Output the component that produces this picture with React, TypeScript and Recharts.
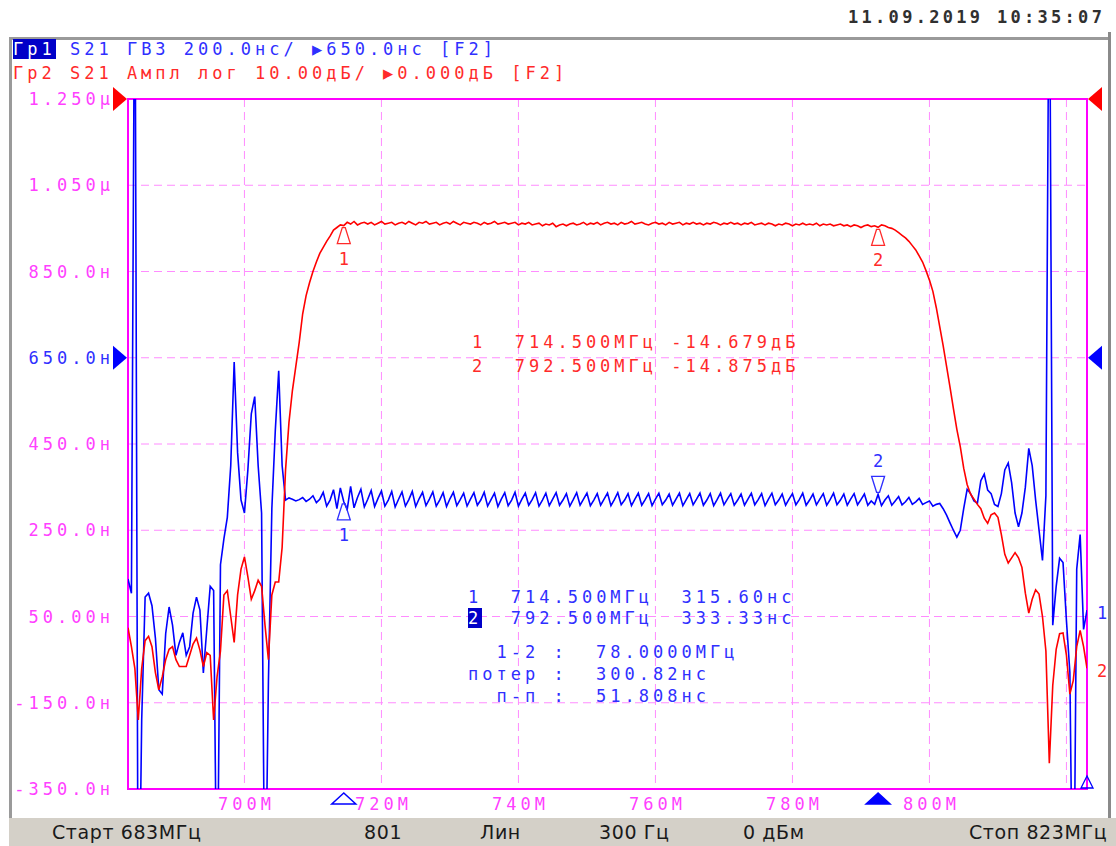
import { LineChart, Line, XAxis, YAxis, CartesianGrid, ReferenceArea, ReferenceDot } from 'recharts';

const START_MHZ = 683;
const STOP_MHZ = 823;
const STEP_MHZ = 0.5;
const freqMHz = Array.from({ length: (STOP_MHZ - START_MHZ) / STEP_MHZ + 1 }, (_, i) => START_MHZ + i * STEP_MHZ);

// Гр1: S21 group delay, ns
const gdNs = [
  137, 104, 1700, -800, -190, 95, 104, 75, 0, -120, // 683.0
  -130, 10, 72, 30, -40, -10, 12, -40, -20, 58, // 688.0
  95, 65, -81, 20, 120, 110, -700, 170, 230, 280, // 693.0
  400, 640, 430, 320, 290, 390, 520, 560, 400, 290, // 698.0
  -700, -100, 300, 480, 620, 400, 320, 325, 322, 318, // 703.0
  321, 326, 317, 322, 330, 314, 322, 338, 306, 320, // 708.0
  344, 300, 348, 316, 298, 352, 302, 326, 345, 304, // 713.0
  322, 342, 305, 324, 341, 306, 320, 340, 304, 322, // 718.0
  339, 306, 321, 340, 305, 323, 338, 307, 322, 339, // 723.0
  306, 320, 337, 305, 323, 338, 307, 321, 336, 306, // 728.0
  322, 337, 308, 320, 338, 306, 321, 336, 305, 322, // 733.0
  337, 307, 320, 338, 306, 322, 336, 308, 321, 337, // 738.0
  306, 320, 336, 307, 322, 337, 308, 320, 335, 306, // 743.0
  321, 337, 308, 322, 336, 307, 320, 335, 308, 322, // 748.0
  336, 307, 321, 337, 309, 320, 335, 307, 322, 336, // 753.0
  308, 321, 335, 307, 322, 336, 309, 320, 334, 308, // 758.0
  322, 336, 307, 321, 335, 309, 322, 336, 308, 320, // 763.0
  335, 307, 321, 336, 309, 322, 335, 308, 320, 334, // 768.0
  308, 322, 336, 309, 321, 335, 307, 322, 336, 309, // 773.0
  320, 334, 308, 322, 335, 309, 321, 336, 308, 320, // 778.0
  334, 309, 322, 335, 308, 321, 336, 309, 320, 334, // 783.0
  308, 322, 335, 309, 321, 334, 308, 318, 310, 333, // 788.0
  307, 320, 330, 308, 318, 328, 309, 316, 326, 310, // 793.0
  316, 324, 310, 314, 318, 306, 310, 312, 300, 285, // 798.0
  267, 250, 234, 250, 300, 345, 335, 318, 313, 365, // 803.0
  380, 343, 335, 310, 305, 335, 390, 406, 360, 290, // 808.0
  258, 290, 350, 440, 400, 320, 250, 180, 330, 1700, // 813.0
  30, 120, 185, 175, 40, -80, -800, 160, 240, 20, // 818.0
  65, // 823.0
];

// Гр2: S21 magnitude, dB
const s21Db = [
  -61.3, -63.5, -66, -72, -66, -62.8, -62.3, -63.5, -66.5, -68.5, // 683.0
  -67, -65, -63.8, -63.5, -65, -65.8, -65.8, -65.8, -64.5, -63.2, // 688.0
  -62.5, -63.9, -65.8, -64.2, -64.5, -72, -67, -64, -57.5, -57, // 693.0
  -60, -63, -57.5, -54.5, -53.1, -55.4, -58, -57, -55.8, -56.5, // 698.0
  -61, -65, -57.5, -56, -56, -52, -43, -37.5, -33.8, -31, // 703.0
  -28.2, -24.9, -22.8, -21.3, -20, -18.9, -17.9, -17.2, -16.5, -15.9, // 708.0
  -15.2, -14.9, -14.6, -14.68, -14.3, -14.5, -14.2, -14.6, -14.4, -14.3, // 713.0
  -14.5, -14.3, -14.6, -14.4, -14.2, -14.5, -14.4, -14.3, -14.6, -14.4, // 718.0
  -14.3, -14.5, -14.2, -14.4, -14.6, -14.3, -14.4, -14.2, -14.5, -14.4, // 723.0
  -14.3, -14.6, -14.4, -14.3, -14.5, -14.2, -14.4, -14.6, -14.3, -14.4, // 728.0
  -14.5, -14.3, -14.4, -14.6, -14.3, -14.5, -14.4, -14.2, -14.5, -14.4, // 733.0
  -14.3, -14.5, -14.4, -14.3, -14.6, -14.4, -14.5, -14.3, -14.6, -14.5, // 738.0
  -14.4, -14.7, -14.5, -14.6, -14.4, -14.8, -14.6, -14.5, -14.7, -14.5, // 743.0
  -14.4, -14.6, -14.5, -14.3, -14.6, -14.4, -14.5, -14.3, -14.6, -14.4, // 748.0
  -14.3, -14.5, -14.4, -14.6, -14.3, -14.5, -14.4, -14.2, -14.5, -14.4, // 753.0
  -14.3, -14.5, -14.6, -14.4, -14.3, -14.5, -14.4, -14.6, -14.3, -14.5, // 758.0
  -14.4, -14.3, -14.6, -14.4, -14.5, -14.3, -14.5, -14.4, -14.6, -14.4, // 763.0
  -14.5, -14.3, -14.4, -14.6, -14.4, -14.5, -14.3, -14.5, -14.4, -14.6, // 768.0
  -14.4, -14.5, -14.3, -14.6, -14.5, -14.4, -14.6, -14.4, -14.5, -14.7, // 773.0
  -14.5, -14.6, -14.4, -14.5, -14.7, -14.5, -14.6, -14.4, -14.6, -14.5, // 778.0
  -14.6, -14.4, -14.7, -14.5, -14.6, -14.5, -14.7, -14.6, -14.5, -14.7, // 783.0
  -14.6, -14.8, -14.6, -14.7, -14.9, -14.7, -14.6, -14.8, -14.7, -14.875, // 788.0
  -14.6, -14.7, -14.9, -15.0, -15.2, -15.5, -15.8, -16.1, -16.5, -17.0, // 793.0
  -17.5, -18.2, -18.9, -19.9, -21, -22.3, -24.2, -26.4, -28.6, -31, // 798.0
  -33.4, -35.9, -38.3, -40.3, -42.8, -44.7, -45.8, -46.4, -47, -47.5, // 803.0
  -48.6, -49.2, -48.2, -48, -48.5, -50.5, -52.8, -53.8, -53.2, -52.6, // 808.0
  -53.2, -54.3, -57.3, -59.6, -58, -56.9, -57.4, -60, -64, -77, // 813.0
  -68, -63.8, -62, -61.9, -64.5, -69, -67.4, -63.5, -61.6, -63.5, // 818.0
  -66, // 823.0
];

const gdTicks = [-350, -150, 50, 250, 450, 650, 850, 1050, 1250];
const gdTickLabels = ['-350.0н', '-150.0н', '50.00н', '250.0н', '450.0н', '650.0н', '850.0н', '1.050µ', '1.250µ'];
const freqTicks = [700, 720, 740, 760, 780, 800, 820];
const freqTickLabels = ['700M', '720M', '740M', '760M', '780M', '800M', ''];

const GD_REF_NS = 650;
const DB_REF = 0;
const markerFreqMHz = [714.5, 792.5];
const markerGdNs = [315.6, 333.33];
const markerDb = [-14.679, -14.875];
const statLines = ['  1-2 :  78.0000МГц', 'потер :  300.82нс', '  п-п :  51.808нс'];
const statusItems = ['Старт 683МГц', '801', 'Лин', '300 Гц', '0 дБм', 'Стоп 823МГц'];
const statusX = [52, 364, 480, 599, 743, 969];

const MONO = '"DejaVu Sans Mono", monospace';
const BLUE = '#0000ff';
const RED = '#ff0000';
const TXT_BLUE = '#2f2fff';
const TXT_RED = '#ff2a2a';
const PINK = '#ff40ff';
const monoText = { fontFamily: MONO, fontSize: 17, letterSpacing: '4px' };

const YTick = ({ x, y, payload }: any) => {
  const i = gdTicks.indexOf(payload.value);
  return (
    <text x={x} y={y} dy="0.36em" textAnchor="end" fill={payload.value === GD_REF_NS ? TXT_BLUE : PINK} style={monoText}>
      {gdTickLabels[i]}
    </text>
  );
};

const XTick = ({ x, y, payload }: any) => (
  <text x={x + 2} y={y} dy="0.71em" textAnchor="middle" fill={PINK} style={monoText}>
    {freqTickLabels[freqTicks.indexOf(payload.value)]}
  </text>
);

const refArrow = (color: string, side: 'left' | 'right') => (p: any) => {
  const s = side === 'left' ? -1 : 1;
  return <path d={`M${p.cx + s},${p.cy} L${p.cx + s * 15},${p.cy - 12} L${p.cx + s * 15},${p.cy + 12} Z`} fill={color} />;
};

const traceMarker = (label: string, color: string, below: boolean) => (p: any) => {
  const s = below ? 1 : -1;
  const { cx, cy } = p;
  return (
    <g>
      <path
        d={`M${cx - 1.5},${cy + s * 2} L${cx - 6.5},${cy + s * 18} L${cx + 6.5},${cy + s * 18} L${cx + 1.5},${cy + s * 2} Z`}
        fill="none"
        stroke={color}
        strokeWidth={1.3}
      />
      <text x={cx + 2} y={cy + s * 33} dy="0.36em" textAnchor="middle" fill={color} style={monoText}>
        {label}
      </text>
    </g>
  );
};

const axisMarker = (filled: boolean) => (p: any) => (
  <path
    d={`M${p.cx},${p.cy + 4} L${p.cx - 12},${p.cy + 15} L${p.cx + 12},${p.cy + 15} Z`}
    fill={filled ? BLUE : 'none'}
    stroke={BLUE}
    strokeWidth={1.5}
  />
);

const cornerMarker = (p: any) => (
  <path d={`M${p.cx},${p.cy - 13} L${p.cx - 6},${p.cy - 1} L${p.cx + 6},${p.cy - 1} Z`} fill="none" stroke={BLUE} strokeWidth={1.3} />
);

const endLabel = (label: string, color: string) => (p: any) => (
  <text x={p.cx + 10} y={p.cy + 3} dy="0.36em" fill={color} style={monoText}>
    {label}
  </text>
);

const abs = (left: number, top: number, extra: any = {}) => ({ position: 'absolute' as const, left, top, ...extra });
const textLine = (color: string) => ({ ...monoText, color, whiteSpace: 'pre' as const, lineHeight: '20px' });

export default function App() {
  const rows = freqMHz.map((f, i) => ({ f, gd: gdNs[i], db: s21Db[i] }));
  const last = freqMHz.length - 1;

  return (
    <div style={{ position: 'absolute', left: 0, top: 0, width: 1116, height: 846, background: '#fff', overflow: 'hidden' }}>
      <div style={abs(9, 37, { width: 1101, height: 3, background: '#9a9a9a' })} />
      <div style={abs(9, 37, { width: 3, height: 782, background: '#9a9a9a' })} />
      <div style={abs(1108, 32, { width: 3, height: 814, background: '#8a8a8a' })} />
      <div style={abs(9, 818, { width: 1107, height: 28, background: '#d4d0c8' })} />
      {statusItems.map((s, i) => (
        <div key={s} style={abs(statusX[i], 818, { fontFamily: '"DejaVu Sans", sans-serif', fontSize: 19, lineHeight: '28px', color: '#1a1a1a', letterSpacing: '0.6px', whiteSpace: 'pre' })}>
          {s}
        </div>
      ))}

      <div style={abs(848, 7, { ...textLine('#303030'), fontWeight: 'bold', letterSpacing: '3.3px' })}>11.09.2019 10:35:07</div>
      <div style={abs(13, 39, textLine(TXT_BLUE))}>
        <span style={{ background: '#0000c8', color: '#fff' }}>Гр1</span> S21 ГВЗ 200.0нс/ ▶650.0нс [F2]
      </div>
      <div style={abs(13, 63, textLine(TXT_RED))}>Гр2 S21 Ампл лог 10.00дБ/ ▶0.000дБ [F2]</div>

      <div style={abs(0, 0)}>
        <LineChart width={1116} height={846} data={rows} margin={{ top: 99, right: 29, bottom: 27, left: 8 }}>
          <CartesianGrid stroke="#ff8cff" strokeWidth={1} strokeDasharray="8 5" />
          <XAxis
            dataKey="f"
            type="number"
            domain={[START_MHZ, STOP_MHZ]}
            ticks={freqTicks}
            allowDataOverflow
            height={30}
            axisLine={false}
            tickLine={false}
            tickSize={0}
            tickMargin={9}
            tick={<XTick />}
          />
          <YAxis
            type="number"
            domain={[-350, 1250]}
            ticks={gdTicks}
            allowDataOverflow
            width={120}
            axisLine={false}
            tickLine={false}
            tickSize={0}
            tickMargin={14}
            tick={<YTick />}
          />
          <YAxis yAxisId="db" orientation="right" type="number" domain={[-80, 0]} allowDataOverflow hide />
          <ReferenceArea x1={START_MHZ} x2={STOP_MHZ} y1={-350} y2={1250} fill="none" fillOpacity={0} stroke="#ff00ff" strokeWidth={2} />
          <Line dataKey="gd" stroke={BLUE} strokeWidth={1.6} dot={false} isAnimationActive={false} />
          <Line yAxisId="db" dataKey="db" stroke={RED} strokeWidth={1.6} dot={false} isAnimationActive={false} />

          <ReferenceDot yAxisId="db" x={START_MHZ} y={DB_REF} ifOverflow="visible" shape={refArrow(RED, 'left')} />
          <ReferenceDot yAxisId="db" x={STOP_MHZ} y={DB_REF} ifOverflow="visible" shape={refArrow(RED, 'right')} />
          <ReferenceDot x={START_MHZ} y={GD_REF_NS} ifOverflow="visible" shape={refArrow(BLUE, 'left')} />
          <ReferenceDot x={STOP_MHZ} y={GD_REF_NS} ifOverflow="visible" shape={refArrow(BLUE, 'right')} />

          <ReferenceDot yAxisId="db" x={markerFreqMHz[0]} y={markerDb[0]} ifOverflow="visible" shape={traceMarker('1', TXT_RED, true)} />
          <ReferenceDot yAxisId="db" x={markerFreqMHz[1]} y={markerDb[1]} ifOverflow="visible" shape={traceMarker('2', TXT_RED, true)} />
          <ReferenceDot x={markerFreqMHz[0]} y={markerGdNs[0]} ifOverflow="visible" shape={traceMarker('1', TXT_BLUE, true)} />
          <ReferenceDot x={markerFreqMHz[1]} y={markerGdNs[1]} ifOverflow="visible" shape={traceMarker('2', TXT_BLUE, false)} />

          <ReferenceDot x={markerFreqMHz[0]} y={-350} ifOverflow="visible" shape={axisMarker(false)} />
          <ReferenceDot x={markerFreqMHz[1]} y={-350} ifOverflow="visible" shape={axisMarker(true)} />
          <ReferenceDot x={STOP_MHZ} y={-350} ifOverflow="visible" shape={cornerMarker} />

          <ReferenceDot x={STOP_MHZ} y={gdNs[last]} ifOverflow="visible" shape={endLabel('1', TXT_BLUE)} />
          <ReferenceDot yAxisId="db" x={STOP_MHZ} y={s21Db[last]} ifOverflow="visible" shape={endLabel('2', TXT_RED)} />
        </LineChart>
      </div>

      {markerFreqMHz.map((f, i) => (
        <div key={`r${i}`} style={abs(472, 332 + i * 24, textLine(TXT_RED))}>
          {`${i + 1}  ${f.toFixed(3)}МГц ${markerDb[i].toFixed(3)}дБ`}
        </div>
      ))}
      {markerFreqMHz.map((f, i) => (
        <div key={`b${i}`} style={abs(468, 587 + i * 21, textLine(TXT_BLUE))}>
          {i === 1 ? <span style={{ background: '#0000c8', color: '#fff' }}>{i + 1}</span> : `${i + 1}`}
          {`  ${f.toFixed(3)}МГц  ${markerGdNs[i].toFixed(2)}нс`}
        </div>
      ))}
      {statLines.map((s, i) => (
        <div key={s} style={abs(468, 642 + i * 22, textLine(TXT_BLUE))}>
          {s}
        </div>
      ))}
    </div>
  );
}
